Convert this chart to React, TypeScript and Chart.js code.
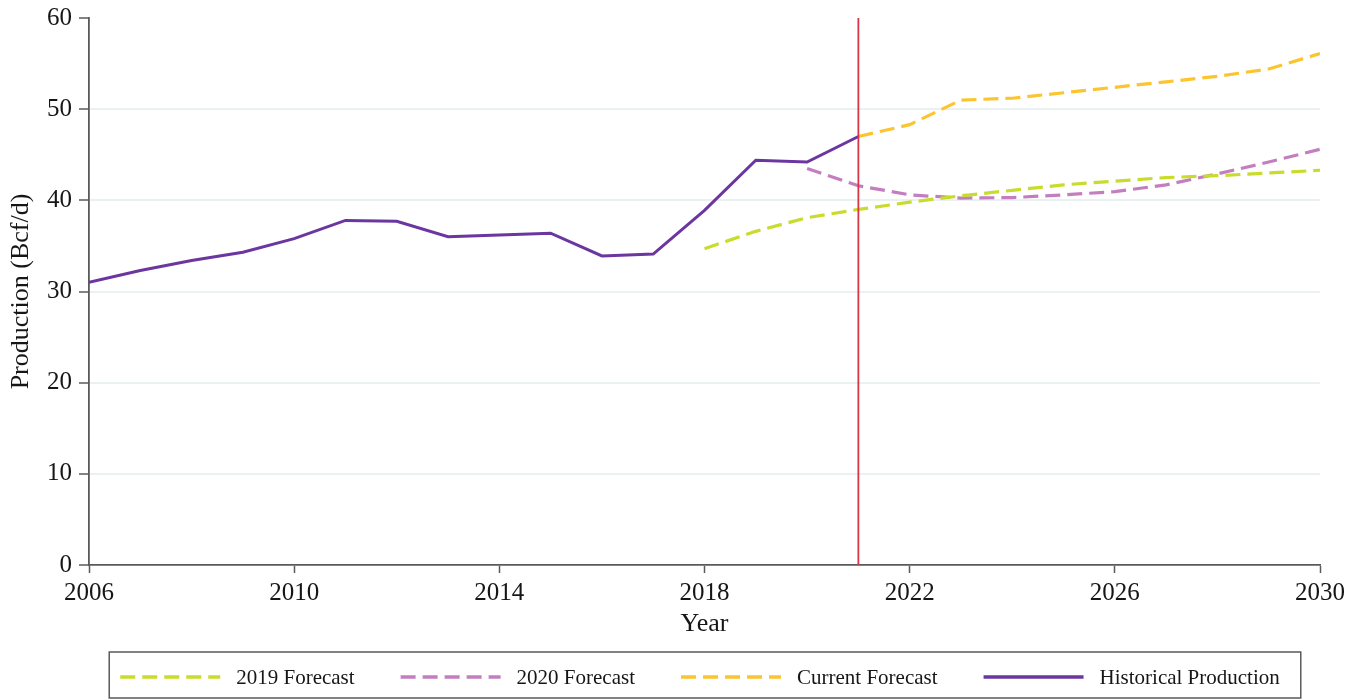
import React, { useEffect, useRef } from "react";
import { Chart, registerables } from "chart.js";

Chart.register(...registerables);

const historicalYears = [2006, 2007, 2008, 2009, 2010, 2011, 2012, 2013, 2014, 2015, 2016, 2017, 2018, 2019, 2020, 2021];
const historicalValues = [31.0, 32.3, 33.4, 34.3, 35.8, 37.8, 37.7, 36.0, 36.2, 36.4, 33.9, 34.1, 38.9, 44.4, 44.2, 47.0];

const forecast2019Years = [2018, 2019, 2020, 2021, 2022, 2023, 2024, 2025, 2026, 2027, 2028, 2029, 2030];
const forecast2019Values = [34.7, 36.6, 38.1, 39.0, 39.8, 40.5, 41.1, 41.7, 42.1, 42.5, 42.7, 43.0, 43.3];

const forecast2020Years = [2020, 2021, 2022, 2023, 2024, 2025, 2026, 2027, 2028, 2029, 2030];
const forecast2020Values = [43.5, 41.6, 40.6, 40.25, 40.3, 40.6, 40.95, 41.7, 42.9, 44.2, 45.6];

const currentYears = [2021, 2022, 2023, 2024, 2025, 2026, 2027, 2028, 2029, 2030];
const currentValues = [47.0, 48.3, 51.0, 51.2, 51.8, 52.4, 53.0, 53.6, 54.4, 56.1];

const xTickValues = [2006, 2010, 2014, 2018, 2022, 2026, 2030];
const yTickValues = [0, 10, 20, 30, 40, 50, 60];
const markerYear = 2021;

const seriesLabels = ["2019 Forecast", "2020 Forecast", "Current Forecast", "Historical Production"];
const seriesColors = ["#c9dc2c", "#c47ec0", "#fcc530", "#6b36a0"];

const FONT = '"Liberation Serif", "Times New Roman", serif';
const TEXT = "#161616";
const AXIS = "#5a5a5a";

const toPoints = (xs: number[], ys: number[]) => xs.map((x, i) => ({ x, y: ys[i] }));

const markerPlugin = {
  id: "markerLine",
  afterDatasetsDraw(chart: any) {
    const { ctx, chartArea, scales } = chart;
    const x = scales.x.getPixelForValue(markerYear);
    ctx.save();
    ctx.strokeStyle = "#d8344a";
    ctx.lineWidth = 1.8;
    ctx.beginPath();
    ctx.moveTo(x, chartArea.top);
    ctx.lineTo(x, chartArea.bottom);
    ctx.stroke();
    ctx.restore();
  },
};

const legendPlugin = {
  id: "boxLegend",
  afterDraw(chart: any) {
    const { ctx } = chart;
    const lineLen = 100;
    const textGap = 16;
    const itemGap = 46;
    ctx.save();
    ctx.font = `21px ${FONT}`;
    const items = chart.data.datasets.map((ds: any) => ({
      label: ds.label,
      color: ds.borderColor,
      dash: ds.borderDash || [],
      width: ctx.measureText(ds.label).width,
    }));
    const total = items.reduce((s: number, it: any) => s + lineLen + textGap + it.width, 0) + itemGap * (items.length - 1);
    const cx = 700;
    let x = cx - total / 2;
    const startX = x;
    const yMid = 677;
    const boxTop = 652;
    const boxBottom = 698;
    items.forEach((it: any) => {
      ctx.strokeStyle = it.color;
      ctx.lineWidth = 3.5;
      ctx.setLineDash(it.dash);
      ctx.beginPath();
      ctx.moveTo(x, yMid);
      ctx.lineTo(x + lineLen, yMid);
      ctx.stroke();
      ctx.setLineDash([]);
      ctx.fillStyle = TEXT;
      ctx.textBaseline = "middle";
      ctx.textAlign = "left";
      ctx.fillText(it.label, x + lineLen + textGap, yMid + 1);
      x += lineLen + textGap + it.width + itemGap;
    });
    const endX = x - itemGap;
    ctx.strokeStyle = AXIS;
    ctx.lineWidth = 1.5;
    ctx.strokeRect(startX - 11, boxTop, endX - startX + 32, boxBottom - boxTop);
    ctx.restore();
  },
};

export default function App() {
  const ref = useRef<HTMLCanvasElement | null>(null);

  useEffect(() => {
    document.body.style.margin = "0";
    const canvas = ref.current;
    if (!canvas) return;
    const dashed = [15, 7];
    const chart = new Chart(canvas, {
      type: "line",
      data: {
        datasets: [
          {
            label: seriesLabels[0],
            data: toPoints(forecast2019Years, forecast2019Values),
            borderColor: seriesColors[0],
            borderDash: dashed,
            borderWidth: 3.2,
            pointRadius: 0,
            fill: false,
          },
          {
            label: seriesLabels[1],
            data: toPoints(forecast2020Years, forecast2020Values),
            borderColor: seriesColors[1],
            borderDash: dashed,
            borderWidth: 3.2,
            pointRadius: 0,
            fill: false,
          },
          {
            label: seriesLabels[2],
            data: toPoints(currentYears, currentValues),
            borderColor: seriesColors[2],
            borderDash: dashed,
            borderWidth: 3.2,
            pointRadius: 0,
            fill: false,
          },
          {
            label: seriesLabels[3],
            data: toPoints(historicalYears, historicalValues),
            borderColor: seriesColors[3],
            borderWidth: 3,
            pointRadius: 0,
            fill: false,
          },
        ],
      },
      options: {
        responsive: false,
        animation: false,
        layout: { padding: { top: 18, right: 45, bottom: 50, left: 0 } },
        plugins: {
          legend: { display: false },
          tooltip: { enabled: false },
        },
        scales: {
          x: {
            type: "linear",
            min: 2006,
            max: 2030,
            afterBuildTicks: (s: any) => {
              s.ticks = xTickValues.map((v) => ({ value: v }));
            },
            afterFit: (s: any) => {
              s.height = 85;
            },
            ticks: {
              color: TEXT,
              font: { family: FONT, size: 25 },
              padding: 5,
              maxRotation: 0,
              autoSkip: false,
              callback: (v: any) => String(v),
            },
            grid: {
              drawOnChartArea: false,
              drawTicks: true,
              tickLength: 8,
              tickColor: AXIS,
              tickWidth: 1.5,
            },
            border: { color: AXIS, width: 1.8 },
            title: {
              display: true,
              text: "Year",
              color: TEXT,
              font: { family: FONT, size: 26 },
              padding: { top: 0, bottom: 10 },
            },
          },
          y: {
            min: 0,
            max: 60,
            afterBuildTicks: (s: any) => {
              s.ticks = yTickValues.map((v) => ({ value: v }));
            },
            afterFit: (s: any) => {
              s.width = 89;
              s.paddingTop = 0;
              s.paddingBottom = 0;
            },
            ticks: {
              color: TEXT,
              font: { family: FONT, size: 25 },
              padding: 7,
            },
            grid: {
              color: (c: any) => (c.tick && (c.tick.value === 0 || c.tick.value === 60) ? "rgba(0,0,0,0)" : "#e9f1f2"),
              lineWidth: 2,
              drawTicks: true,
              tickLength: 10,
              tickColor: AXIS,
              tickWidth: 1.5,
            },
            border: { color: AXIS, width: 1.8 },
            title: {
              display: true,
              text: "Production (Bcf/d)",
              color: TEXT,
              font: { family: FONT, size: 26 },
              padding: { top: 6, bottom: 0 },
            },
          },
        },
      },
      plugins: [markerPlugin, legendPlugin],
    });
    return () => chart.destroy();
  }, []);

  return (
    <div style={{ width: 1365, height: 700, background: "#fff" }}>
      <canvas ref={ref} width={1365} height={700} style={{ display: "block" }} />
    </div>
  );
}
